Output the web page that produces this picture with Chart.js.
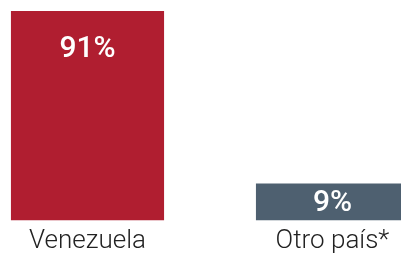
<!DOCTYPE html>
<html>
<head>
<meta charset="utf-8">
<script src="https://cdn.jsdelivr.net/npm/chart.js@4/dist/chart.umd.min.js"></script>
<style>
  html, body { margin: 0; padding: 0; background: #fff; overflow: hidden; }
  body { width: 401px; height: 253px; position: relative; }
  #wrap { position: absolute; left: -35px; top: 0; width: 490px; height: 253px; }
</style>
</head>
<body>
<div id="wrap"><canvas id="chart"></canvas></div>
<script>
(function () {
  'use strict';

  var categories = ['Venezuela', 'Otro país*'];
  var values     = [91, 9];
  var colors     = ['#b01e30', '#4e6070'];

  // white % label inside each bar, near its top
  var barLabels = {
    id: 'barLabels',
    afterDatasetsDraw: function (chart) {
      var ctx = chart.ctx;
      var meta = chart.getDatasetMeta(0);
      ctx.save();
      ctx.fillStyle = '#ffffff';
      ctx.font = '500 30px Roboto, sans-serif';
      ctx.textAlign = 'center';
      ctx.textBaseline = 'middle';
      meta.data.forEach(function (bar, i) {
        var y = Math.min(bar.y + 38, (bar.y + bar.base) / 2 + 2);
        ctx.fillText(values[i] + '%', bar.x, y);
      });
      ctx.restore();
    }
  };

  new Chart(document.getElementById('chart'), {
    type: 'bar',
    data: {
      labels: categories,
      datasets: [{
        data: values,
        backgroundColor: colors,
        borderWidth: 0,
        categoryPercentage: 1,
        barPercentage: 0.625,
        minBarLength: 37
      }]
    },
    options: {
      responsive: true,
      maintainAspectRatio: false,
      animation: false,
      layout: { padding: { top: 11, left: 0, right: 0, bottom: -9 } },
      plugins: { legend: { display: false }, tooltip: { enabled: false } },
      scales: {
        x: {
          grid: { display: false, drawTicks: false },
          border: { display: false },
          ticks: {
            color: '#222222',
            padding: 11.7,
            font: { family: 'Roboto, sans-serif', size: 26, weight: '300', lineHeight: 0.7 }
          }
        },
        y: {
          display: false,
          min: 0,
          max: 91
        }
      }
    },
    plugins: [barLabels]
  });
})();
</script>
</body>
</html>
